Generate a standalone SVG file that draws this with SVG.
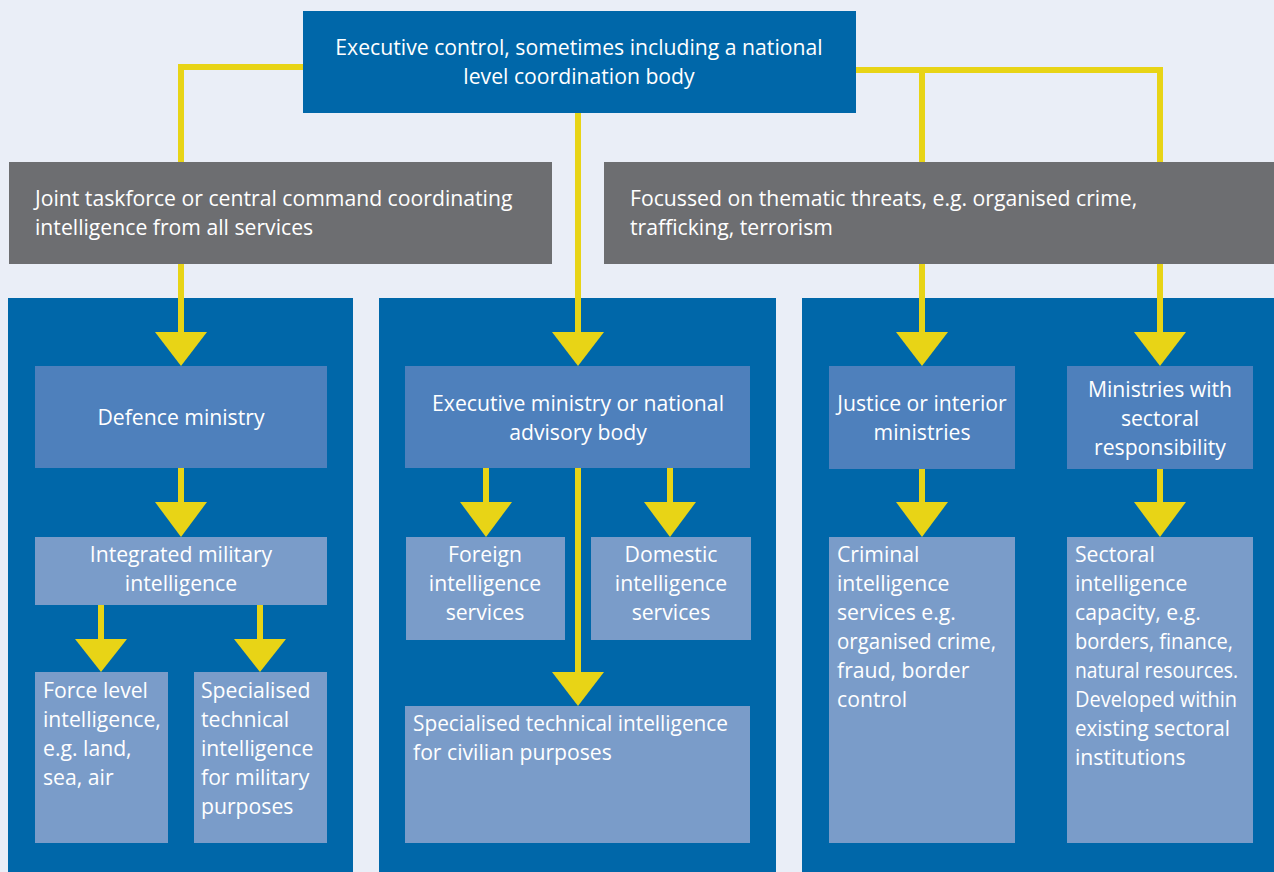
<svg xmlns="http://www.w3.org/2000/svg" width="1274" height="872" viewBox="0 0 1274 872">
<defs>
<style>
.t{font-family:"Open Sans","Noto Sans",sans-serif;font-size:21.2px;fill:#ffffff}
.c{text-anchor:middle}
.dark{fill:#0067A9}
.gray{fill:#6D6E71}
.mid{fill:#4E80BC}
.lt{fill:#7A9CC9}
.ln{stroke:#E8D416;stroke-width:6;fill:none}
.hd{fill:#E8D416}
</style>
</defs>
<rect width="1274" height="872" fill="#EAEEF7"/>
<g id="panels">
<rect class="dark" x="8" y="298" width="345" height="574"/>
<rect class="dark" x="379" y="298" width="397" height="574"/>
<rect class="dark" x="802" y="298" width="472" height="574"/>
</g>
<g id="connectors">
<path class="ln" d="M303 67 H181 V162"/>
<path class="ln" d="M856 70 H1160 V162 M922 70 V162"/>
<path class="ln" d="M181 264 V334 M578 113 V334 M922 264 V334 M1160 264 V334"/>
<path class="ln" d="M181 468 V504 M101 605 V641 M260 605 V641"/>
<path class="ln" d="M486 468 V504 M670 468 V504 M578 468 V674"/>
<path class="ln" d="M922 468 V504 M1160 468 V504"/>
<polygon class="hd" points="155,332 207,332 181,366"/>
<polygon class="hd" points="552,332 604,332 578,366"/>
<polygon class="hd" points="896,332 948,332 922,366"/>
<polygon class="hd" points="1134,332 1186,332 1160,366"/>
<polygon class="hd" points="155,502 207,502 181,537"/>
<polygon class="hd" points="75,639 127,639 101,672"/>
<polygon class="hd" points="234,639 286,639 260,672"/>
<polygon class="hd" points="460,502 512,502 486,537"/>
<polygon class="hd" points="644,502 696,502 670,537"/>
<polygon class="hd" points="552,672 604,672 578,706"/>
<polygon class="hd" points="896,502 948,502 922,537"/>
<polygon class="hd" points="1134,502 1186,502 1160,537"/>
</g>
<g id="executive">
<rect class="dark" x="303" y="11" width="553" height="102"/>
<text class="t c" x="579" y="55">Executive control, sometimes including a national</text>
<text class="t c" x="579" y="84">level coordination body</text>
</g>
<g id="joint">
<rect class="gray" x="9" y="162" width="543" height="102"/>
<text class="t" x="35" y="206">Joint taskforce or central command coordinating</text>
<text class="t" x="35" y="235">intelligence from all services</text>
</g>
<g id="thematic">
<rect class="gray" x="604" y="162" width="670" height="102"/>
<text class="t" x="630" y="206">Focussed on thematic threats, e.g. organised crime,</text>
<text class="t" x="630" y="235">trafficking, terrorism</text>
</g>
<g id="defence">
<rect class="mid" x="35" y="366" width="292" height="102"/>
<text class="t c" x="181" y="425">Defence ministry</text>
</g>
<g id="integrated">
<rect class="lt" x="35" y="537" width="292" height="68"/>
<text class="t c" x="181" y="562">Integrated military</text>
<text class="t c" x="181" y="591">intelligence</text>
</g>
<g id="force">
<rect class="lt" x="35" y="672" width="133" height="171"/>
<text class="t" x="43" y="698">Force level</text>
<text class="t" x="43" y="727">intelligence,</text>
<text class="t" x="43" y="756">e.g. land,</text>
<text class="t" x="43" y="785">sea, air</text>
</g>
<g id="spec-military">
<rect class="lt" x="194" y="672" width="133" height="171"/>
<text class="t" x="201" y="698">Specialised</text>
<text class="t" x="201" y="727">technical</text>
<text class="t" x="201" y="756">intelligence</text>
<text class="t" x="201" y="785">for military</text>
<text class="t" x="201" y="814">purposes</text>
</g>
<g id="exec-ministry">
<rect class="mid" x="405" y="366" width="345" height="102"/>
<text class="t c" x="578" y="411">Executive ministry or national</text>
<text class="t c" x="578" y="440">advisory body</text>
</g>
<g id="foreign">
<rect class="lt" x="406" y="537" width="159" height="103"/>
<text class="t c" x="485" y="562">Foreign</text>
<text class="t c" x="485" y="591">intelligence</text>
<text class="t c" x="485" y="620">services</text>
</g>
<g id="domestic">
<rect class="lt" x="591" y="537" width="160" height="103"/>
<text class="t c" x="671" y="562">Domestic</text>
<text class="t c" x="671" y="591">intelligence</text>
<text class="t c" x="671" y="620">services</text>
</g>
<g id="spec-civilian">
<rect class="lt" x="405" y="706" width="345" height="137"/>
<text class="t" x="413" y="731" textLength="315" lengthAdjust="spacingAndGlyphs">Specialised technical intelligence</text>
<text class="t" x="413" y="760">for civilian purposes</text>
</g>
<g id="justice">
<rect class="mid" x="829" y="366" width="186" height="103"/>
<text class="t c" x="922" y="411">Justice or interior</text>
<text class="t c" x="922" y="440">ministries</text>
</g>
<g id="sectoral-ministries">
<rect class="mid" x="1067" y="366" width="186" height="103"/>
<text class="t c" x="1160" y="397">Ministries with</text>
<text class="t c" x="1160" y="426">sectoral</text>
<text class="t c" x="1160" y="455">responsibility</text>
</g>
<g id="criminal">
<rect class="lt" x="829" y="537" width="186" height="306"/>
<text class="t" x="837" y="562">Criminal</text>
<text class="t" x="837" y="591">intelligence</text>
<text class="t" x="837" y="620">services e.g.</text>
<text class="t" x="837" y="649" textLength="159" lengthAdjust="spacingAndGlyphs">organised crime,</text>
<text class="t" x="837" y="678">fraud, border</text>
<text class="t" x="837" y="707">control</text>
</g>
<g id="sectoral-intel">
<rect class="lt" x="1067" y="537" width="186" height="306"/>
<text class="t" x="1075" y="562">Sectoral</text>
<text class="t" x="1075" y="591">intelligence</text>
<text class="t" x="1075" y="620">capacity, e.g.</text>
<text class="t" x="1075" y="649" textLength="158" lengthAdjust="spacingAndGlyphs">borders, finance,</text>
<text class="t" x="1075" y="678" textLength="163" lengthAdjust="spacingAndGlyphs">natural resources.</text>
<text class="t" x="1075" y="707" textLength="162" lengthAdjust="spacingAndGlyphs">Developed within</text>
<text class="t" x="1075" y="736" textLength="155" lengthAdjust="spacingAndGlyphs">existing sectoral</text>
<text class="t" x="1075" y="765">institutions</text>
</g>
</svg>
